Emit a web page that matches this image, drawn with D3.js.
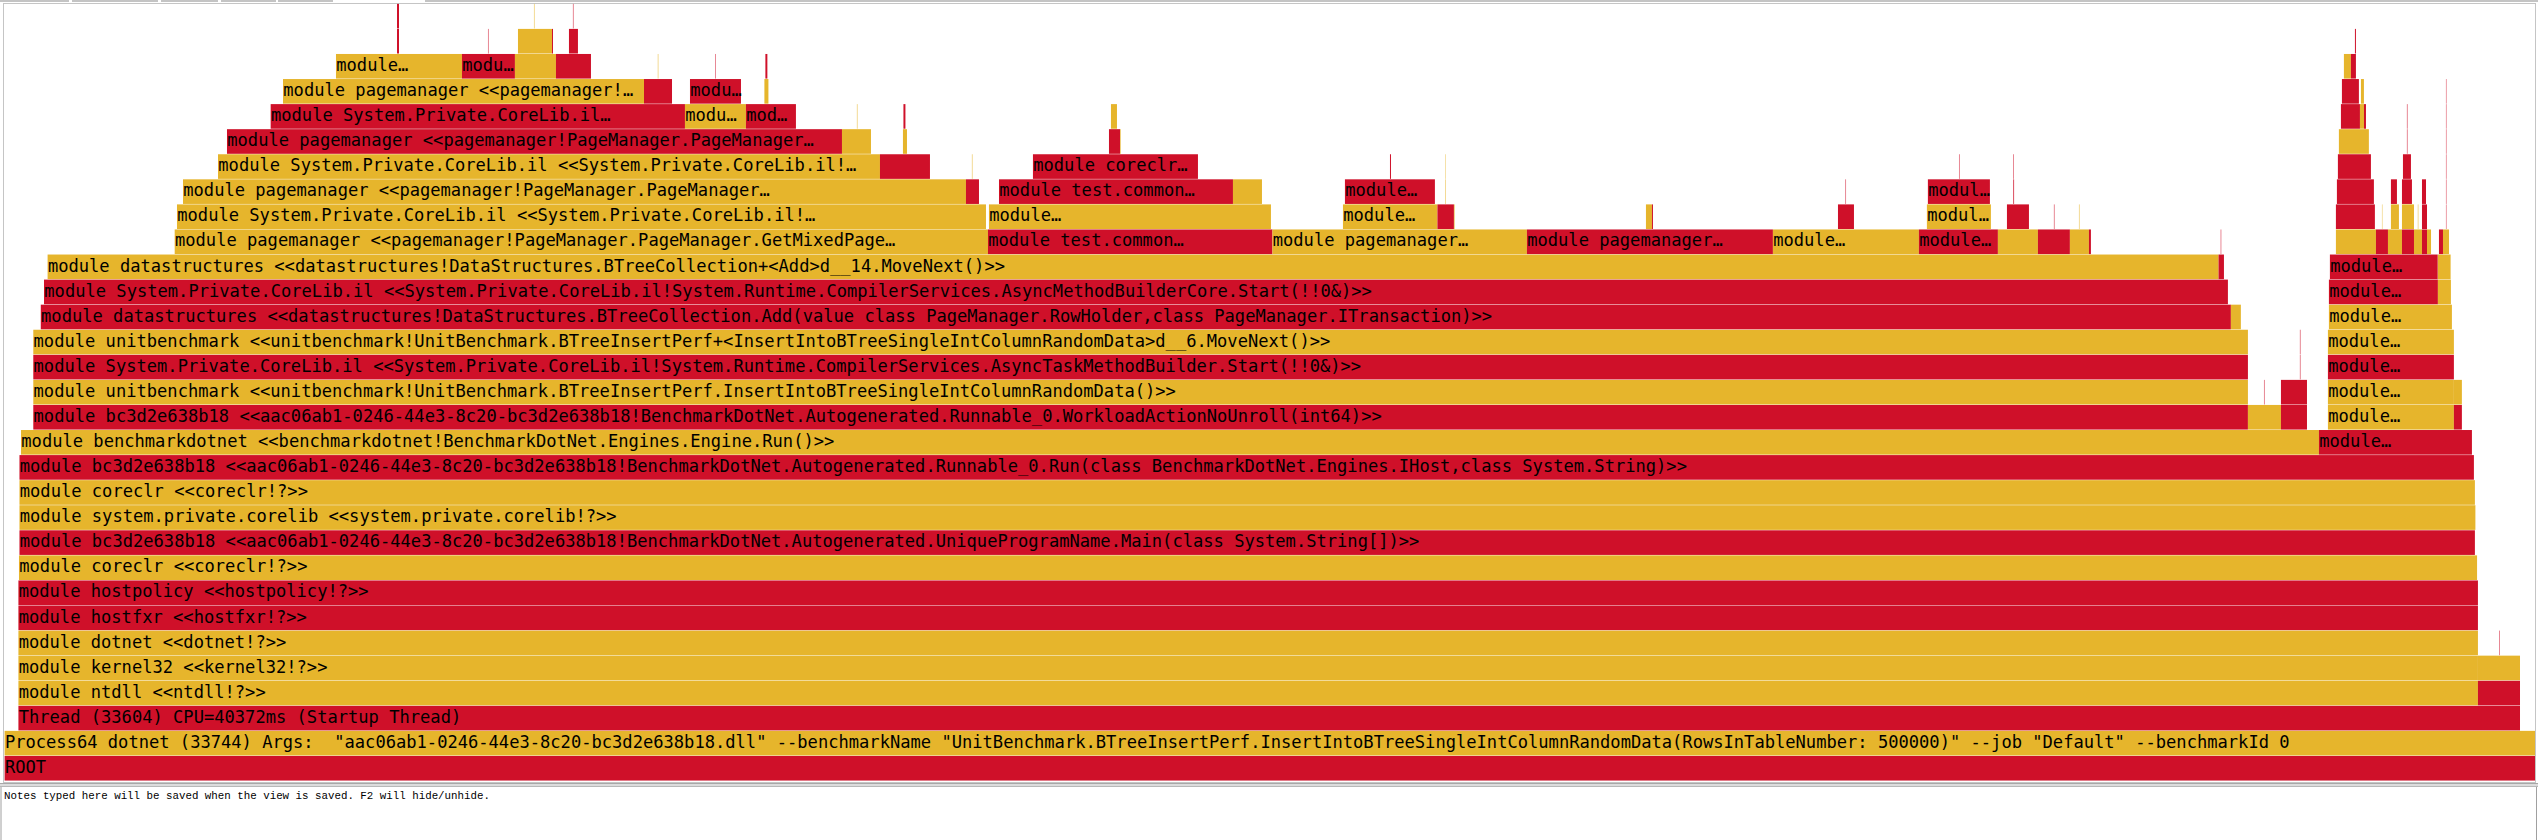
<!DOCTYPE html>
<html><head><meta charset="utf-8">
<script src="https://cdn.jsdelivr.net/npm/d3@7"></script>
<style>html,body{margin:0;padding:0;background:#fff;overflow:hidden}</style>
</head><body>
<svg id="c" width="2538" height="840"></svg>
<script>
// Flame graph (PerfView). Values are CPU milliseconds: [depth, startMs, valueMs, kind(0=red,1=yellow), label]
const totalMs = 40837;
const maxDepth = 31;
const kindColors = ["#CF1029", "#E6B52C"];

const mainStack = [
  [0, 0, 40837, 0, "ROOT"],
  [1, 0, 40837, 1, 'Process64 dotnet (33744) Args:  "aac06ab1-0246-44e3-8c20-bc3d2e638b18.dll" --benchmarkName "UnitBenchmark.BTreeInsertPerf.InsertIntoBTreeSingleIntColumnRandomData(RowsInTableNumber: 500000)" --job "Default" --benchmarkId 0'],
  [2, 223, 40372, 0, "Thread (33604) CPU=40372ms (Startup Thread)"],
  [3, 223, 39693, 1, "module ntdll <<ntdll!?>>"],
  [3, 39916, 679, 0, ""],
  [4, 223, 39693, 1, "module kernel32 <<kernel32!?>>"],
  [4, 39916, 679, 1, ""],
  [5, 223, 39693, 1, "module dotnet <<dotnet!?>>"],
  [5, 40263, 8, 0, ""],
  [6, 223, 39693, 0, "module hostfxr <<hostfxr!?>>"],
  [7, 223, 39693, 0, "module hostpolicy <<hostpolicy!?>>"],
  [8, 232, 39670, 1, "module coreclr <<coreclr!?>>"],
  [9, 240, 39627, 0, "module bc3d2e638b18 <<aac06ab1-0246-44e3-8c20-bc3d2e638b18!BenchmarkDotNet.Autogenerated.UniqueProgramName.Main(class System.String[])>>"],
  [10, 240, 39635, 1, "module system.private.corelib <<system.private.corelib!?>>"],
  [11, 240, 39627, 1, "module coreclr <<coreclr!?>>"],
  [12, 240, 39611, 0, "module bc3d2e638b18 <<aac06ab1-0246-44e3-8c20-bc3d2e638b18!BenchmarkDotNet.Autogenerated.Runnable_0.Run(class BenchmarkDotNet.Engines.IHost,class System.String)>>"],
  [13, 265, 37085, 1, "module benchmarkdotnet <<benchmarkdotnet!BenchmarkDotNet.Engines.Engine.Run()>>"],
  [14, 463, 35741, 0, "module bc3d2e638b18 <<aac06ab1-0246-44e3-8c20-bc3d2e638b18!BenchmarkDotNet.Autogenerated.Runnable_0.WorkloadActionNoUnroll(int64)>>"],
  [14, 36204, 533, 1, ""],
  [14, 36737, 420, 0, ""],
  [15, 463, 35741, 1, "module unitbenchmark <<unitbenchmark!UnitBenchmark.BTreeInsertPerf.InsertIntoBTreeSingleIntColumnRandomData()>>"],
  [15, 36737, 420, 0, ""],
  [15, 36463, 8, 0, ""],
  [16, 463, 35741, 0, "module System.Private.CoreLib.il <<System.Private.CoreLib.il!System.Runtime.CompilerServices.AsyncTaskMethodBuilder.Start(!!0&)>>"],
  [16, 37043, 8, 0, ""],
  [17, 463, 35741, 1, "module unitbenchmark <<unitbenchmark!UnitBenchmark.BTreeInsertPerf+<InsertIntoBTreeSingleIntColumnRandomData>d__6.MoveNext()>>"],
  [17, 37043, 8, 0, ""],
  [18, 584, 35345, 0, "module datastructures <<datastructures!DataStructures.BTreeCollection.Add(value class PageManager.RowHolder,class PageManager.ITransaction)>>"],
  [18, 35929, 161, 1, ""],
  [19, 636, 35245, 0, "module System.Private.CoreLib.il <<System.Private.CoreLib.il!System.Runtime.CompilerServices.AsyncMethodBuilderCore.Start(!!0&)>>"],
  [20, 694, 35036, 1, "module datastructures <<datastructures!DataStructures.BTreeCollection+<Add>d__14.MoveNext()>>"],
  [20, 35730, 87, 0, ""]
];

const leftTower = [
  [21, 2745, 13125, 1, "module pagemanager <<pagemanager!PageManager.PageManager.GetMixedPage…"],
  [22, 2782, 13056, 1, "module System.Private.CoreLib.il <<System.Private.CoreLib.il!…"],
  [23, 2879, 12636, 1, "module pagemanager <<pagemanager!PageManager.PageManager…"],
  [23, 15515, 210, 0, ""],
  [24, 3444, 10683, 1, "module System.Private.CoreLib.il <<System.Private.CoreLib.il!…"],
  [24, 14127, 807, 0, ""],
  [24, 15611, 8, 1, ""],
  [25, 3589, 9925, 0, "module pagemanager <<pagemanager!PageManager.PageManager…"],
  [25, 13514, 468, 1, ""],
  [25, 14498, 65, 1, ""],
  [26, 4294, 6686, 0, "module System.Private.CoreLib.il…"],
  [26, 10980, 984, 1, "modu…"],
  [26, 11964, 807, 0, "mod…"],
  [26, 13755, 8, 1, ""],
  [26, 14506, 32, 0, ""],
  [27, 4493, 5826, 1, "module pagemanager <<pagemanager!…"],
  [27, 10319, 452, 0, ""],
  [27, 11061, 823, 0, "modu…"],
  [27, 12262, 65, 1, ""],
  [28, 5348, 2033, 1, "module…"],
  [28, 7381, 855, 0, "modu…"],
  [28, 8236, 662, 1, ""],
  [28, 8898, 565, 0, ""],
  [28, 10542, 8, 1, ""],
  [28, 11472, 8, 0, ""],
  [28, 12278, 32, 0, ""],
  [29, 6333, 32, 0, ""],
  [29, 7801, 8, 0, ""],
  [29, 8285, 549, 1, ""],
  [29, 8834, 16, 0, ""],
  [29, 9108, 145, 0, ""],
  [30, 6333, 32, 0, ""],
  [30, 8543, 8, 1, ""],
  [30, 9172, 8, 0, ""]
];

const middleFrames = [
  [21, 15870, 4591, 0, "module test.common…"],
  [21, 20461, 4107, 1, "module pagemanager…"],
  [21, 24568, 3970, 0, "module pagemanager…"],
  [21, 28538, 2356, 1, "module…"],
  [21, 30894, 1275, 0, "module…"],
  [21, 32169, 646, 1, ""],
  [21, 32815, 516, 0, ""],
  [21, 33331, 307, 1, ""],
  [21, 33638, 32, 0, ""],
  [21, 35765, 8, 0, ""],
  [22, 15886, 4551, 1, "module…"],
  [22, 21599, 1525, 1, "module…"],
  [22, 23124, 266, 0, ""],
  [22, 23390, 10, 1, ""],
  [22, 26489, 97, 1, ""],
  [22, 26586, 16, 0, ""],
  [22, 29588, 258, 0, ""],
  [22, 31023, 1033, 1, "modul…"],
  [22, 32315, 355, 0, ""],
  [22, 33073, 8, 0, ""],
  [22, 33477, 8, 1, ""],
  [23, 16048, 3776, 0, "module test.common…"],
  [23, 19824, 468, 1, ""],
  [23, 21631, 1452, 0, "module…"],
  [23, 23254, 8, 1, ""],
  [23, 29710, 8, 0, ""],
  [23, 31039, 1001, 0, "modul…"],
  [23, 32418, 12, 0, ""],
  [24, 16596, 2663, 0, "module coreclr…"],
  [24, 22358, 16, 0, ""],
  [24, 23254, 6, 1, ""],
  [24, 31541, 8, 0, ""],
  [24, 32418, 8, 0, ""],
  [25, 17823, 178, 0, ""],
  [25, 18001, 10, 1, ""],
  [26, 17855, 97, 1, ""]
];

const rightTower = [
  [13, 37350, 2469, 0, "module…"],
  [14, 37495, 2033, 1, "module…"],
  [14, 39528, 129, 0, ""],
  [15, 37495, 2033, 1, "module…"],
  [15, 39528, 129, 1, ""],
  [16, 37495, 2033, 0, "module…"],
  [17, 37495, 2033, 1, "module…"],
  [18, 37511, 1985, 1, "module…"],
  [19, 37511, 1759, 0, "module…"],
  [19, 39270, 210, 1, ""],
  [20, 37527, 1740, 0, "module…"],
  [20, 39270, 205, 1, ""],
  [21, 37624, 646, 1, ""], [21, 38270, 194, 0, ""], [21, 38464, 226, 1, ""], [21, 38690, 194, 0, ""],
  [21, 38884, 129, 1, ""], [21, 39013, 81, 0, ""], [21, 39094, 65, 1, ""], [21, 39287, 65, 0, ""], [21, 39352, 97, 1, ""],
  [22, 37624, 629, 0, ""], [22, 38367, 6, 1, ""], [22, 38512, 129, 1, ""], [22, 38690, 194, 1, ""], [22, 38946, 8, 1, ""], [22, 39013, 81, 0, ""], [22, 39400, 6, 0, ""],
  [23, 37640, 597, 0, ""], [23, 38512, 97, 0, ""], [23, 38690, 161, 0, ""], [23, 39013, 65, 0, ""], [23, 39400, 6, 0, ""],
  [24, 37656, 533, 0, ""], [24, 38706, 129, 0, ""], [24, 39400, 6, 0, ""],
  [25, 37672, 484, 1, ""], [25, 38770, 8, 0, ""], [25, 39400, 6, 0, ""],
  [26, 37705, 307, 0, ""], [26, 38012, 65, 1, ""], [26, 38077, 32, 0, ""], [26, 38770, 8, 0, ""], [26, 39400, 6, 0, ""],
  [27, 37721, 274, 0, ""], [27, 38028, 48, 1, ""], [27, 39400, 6, 0, ""],
  [28, 37753, 113, 1, ""], [28, 37866, 81, 0, ""],
  [29, 37931, 16, 0, ""]
];

const notesText = "Notes typed here will be saved when the view is saved. F2 will hide/unhide.";

const frames = [].concat(mainStack, leftTower, middleFrames, rightTower)
  .map(([depth, start, value, kind, label]) => ({depth, start, value, kind, label}));

const W = 2538, H = 840;
const svg = d3.select("#c");
const rowH = 25.07;
const x = d3.scaleLinear().domain([0, totalMs]).range([4.6, 2535]);
const y = d3.scaleLinear().domain([0, maxDepth]).range([781, 781 - maxDepth * rowH]);
const color = d3.scaleOrdinal().domain([0, 1]).range(kindColors);

// top toolbar remnants
const topSegs = [[0, 69], [72, 158], [161, 218], [221, 276], [278, 333], [425, 2538]];
svg.selectAll("rect.tb").data(topSegs).join("rect").attr("class", "tb")
  .attr("x", d => d[0]).attr("y", 0).attr("width", d => d[1] - d[0]).attr("height", 2)
  .attr("fill", "#c4c4c4");

const g = svg.append("g");
g.selectAll("rect.f").data(frames).join("rect").attr("class", "f")
  .attr("x", d => x(d.start))
  .attr("y", d => y(d.depth + 1))
  .attr("width", d => Math.max(0.4, x(d.start + d.value) - x(d.start)))
  .attr("height", rowH - 0.45)
  .attr("fill", d => color(d.kind));

g.selectAll("text.l").data(frames.filter(d => d.label)).join("text").attr("class", "l")
  .attr("x", d => x(d.start) + 0.3)
  .attr("y", d => y(d.depth + 1) + 17)
  .attr("font-family", "'DejaVu Sans Mono', monospace")
  .attr("font-size", "17.1px")
  .attr("fill", "#000")
  .attr("xml:space", "preserve")
  .style("white-space", "pre")
  .text(d => d.label);

// dotted frame around graph
svg.append("rect").attr("x", 3.5).attr("y", 3.5).attr("width", 2532).attr("height", 779)
  .attr("fill", "none").attr("stroke", "#8a8a8a").attr("stroke-width", 1).attr("stroke-dasharray", "1 1");

// separator and notes pane
svg.append("rect").attr("x", 0).attr("y", 783).attr("width", W).attr("height", 4).attr("fill", "#dcdcdc");
svg.append("line").attr("x1", 0).attr("x2", W).attr("y1", 783.5).attr("y2", 783.5).attr("stroke", "#a8a8a8");
svg.append("line").attr("x1", 0).attr("x2", W).attr("y1", 786.5).attr("y2", 786.5).attr("stroke", "#b8b8b8");
svg.append("line").attr("x1", 1).attr("x2", 1).attr("y1", 787).attr("y2", H).attr("stroke", "#a0a0a0");
svg.append("line").attr("x1", 2536.5).attr("x2", 2536.5).attr("y1", 787).attr("y2", H).attr("stroke", "#a0a0a0");
svg.append("text").attr("x", 4).attr("y", 798.5)
  .attr("font-family", "'Liberation Mono', monospace").attr("font-size", "10.8px").attr("fill", "#000")
  .text(notesText);
</script>
</body></html>
